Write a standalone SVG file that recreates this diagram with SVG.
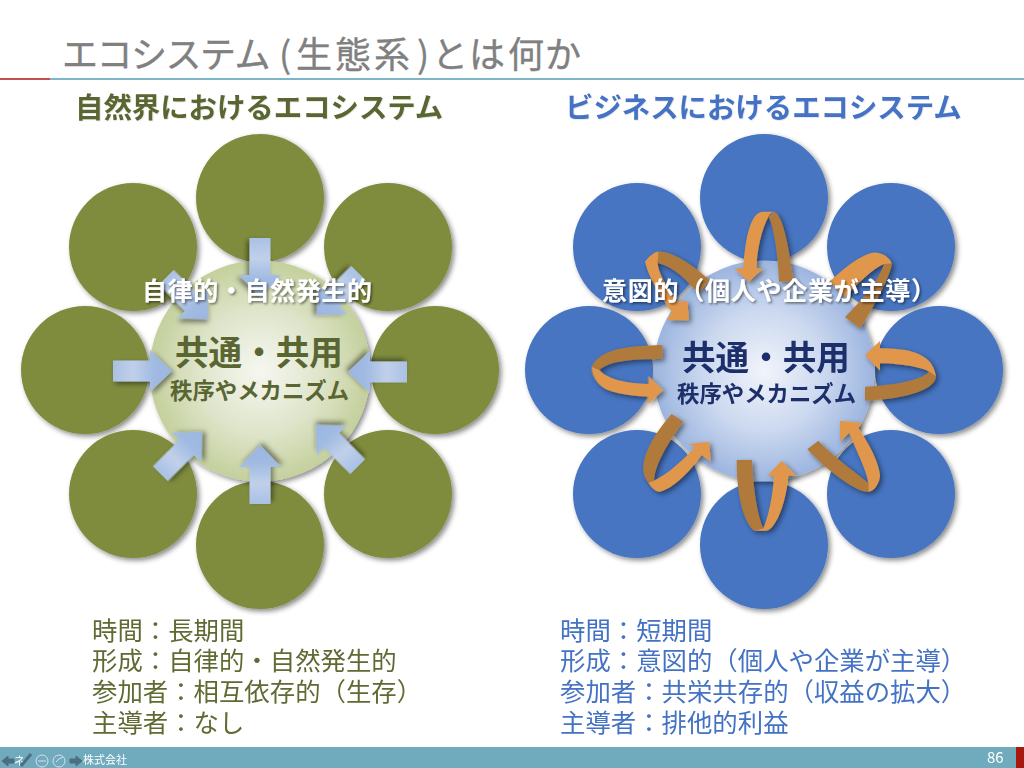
<svg xmlns="http://www.w3.org/2000/svg" width="1024" height="768" viewBox="0 0 1024 768">
<style>
text{font-family:"Noto Sans CJK JP","Noto Sans CJK SC",sans-serif}
.green{fill:#7f8c3c}.blue{fill:#4674c1}
.b{font-weight:700}
.gd{fill:#5a6632}.bd{fill:#1d2f6b}
.l1{fill:#5f6b33;font-size:25.4px}.l2{fill:#4472c4;font-size:25.4px}
.o{fill:#e0974b}.d{fill:#b07a3c}
.w{fill:#fff;font-weight:700;font-size:25px}
</style>
<defs>
<filter id="sh" x="-20%" y="-20%" width="140%" height="140%"><feDropShadow dx="2.5" dy="2.5" stdDeviation="2.5" flood-color="#000" flood-opacity=".45"/></filter>
<filter id="ts" x="-5%" y="-20%" width="110%" height="150%"><feDropShadow dx="1.5" dy="1.5" stdDeviation="1.2" flood-color="#000" flood-opacity=".5"/></filter>
<filter id="hs" x="-5%" y="-20%" width="110%" height="150%"><feDropShadow dx=".7" dy=".7" stdDeviation=".5" flood-color="#000" flood-opacity=".12"/></filter>
<radialGradient id="cg"><stop offset="0" stop-color="#f6f7f1"/><stop offset=".55" stop-color="#dfe5cb"/><stop offset="1" stop-color="#c4d09c"/></radialGradient>
<radialGradient id="cb"><stop offset="0" stop-color="#f1f4fb"/><stop offset=".55" stop-color="#cbd8ef"/><stop offset="1" stop-color="#9cb5df"/></radialGradient>
<linearGradient id="ag" gradientUnits="userSpaceOnUse" x1="-59" y1="0" x2="0" y2="0"><stop offset="0" stop-color="#aac1e5"/><stop offset=".35" stop-color="#c0d0ea"/><stop offset=".7" stop-color="#a0bae2"/><stop offset="1" stop-color="#9bb6e1"/></linearGradient>
<polygon id="ba" fill="url(#ag)" filter="url(#sh)" points="-59,-10.5 -22,-10.5 -22,-21 0,0 -22,21 -22,10.5 -59,10.5"/>
</defs>
<rect width="1024" height="768" fill="#fff"/>
<g id="title">
<text x="62 96.5 131 165.5 200 234.5 279 296 335 374 417 432 469 508 545" y="68" font-size="36" fill="#808080" stroke="#808080" stroke-width=".35">エコシステム(生態系)とは何か</text>
<rect x="50" y="78" width="974" height="2" fill="#7fb5c8"/><rect x="0" y="78" width="50" height="2" fill="#c0504d"/>
</g>
<text id="head-left" class="b" x="75" y="118" font-size="28.4" fill="#5a6632" filter="url(#hs)">自然界におけるエコシステム</text>
<text id="head-right" class="b" x="565" y="118" font-size="28.4" fill="#4472c4" filter="url(#hs)">ビジネスにおけるエコシステム</text>

<g id="nature-outer" class="green" filter="url(#sh)">
<circle id="n1" cx="260" cy="198" r="64"/><circle id="n2" cx="388" cy="247" r="64"/><circle id="n3" cx="435" cy="370" r="64"/><circle id="n4" cx="388" cy="494" r="64"/><circle id="n5" cx="260" cy="545" r="64"/><circle id="n6" cx="133" cy="494" r="64"/><circle id="n7" cx="85" cy="370" r="64"/><circle id="n8" cx="133" cy="247" r="64"/>
</g>
<g id="nature-center">
<circle cx="260" cy="371" r="110.5" fill="url(#cg)" filter="url(#sh)"/>
</g>
<g id="nature-connectors">
<use href="#ba" transform="translate(260,297) rotate(90)"/>
<use href="#ba" transform="translate(260,445) rotate(-90)"/>
<use href="#ba" transform="translate(172,371)"/>
<use href="#ba" transform="translate(348,372) rotate(180)"/>
<use href="#ba" transform="translate(202,432) rotate(-45)"/>
<use href="#ba" transform="translate(316,425) rotate(-135)"/>
<use href="#ba" transform="translate(208,319) rotate(45)"/>
<use href="#ba" transform="translate(317,315) rotate(135)"/>
</g>
<g id="nature-labels">
<text class="w" x="142" y="300" filter="url(#ts)" textLength="230">自律的・自然発生的</text>
<text class="b gd" x="175" y="365" font-size="33.6">共通・共用</text>
<text class="b gd" x="170" y="399" font-size="22.4">秩序やメカニズム</text>
</g>

<g id="biz-outer" class="blue" filter="url(#sh)">
<circle id="b1" cx="764" cy="198" r="64"/><circle id="b2" cx="891" cy="247" r="64"/><circle id="b3" cx="939" cy="370" r="64"/><circle id="b4" cx="891" cy="494" r="64"/><circle id="b5" cx="764" cy="545" r="64"/><circle id="b6" cx="637" cy="494" r="64"/><circle id="b7" cx="589" cy="370" r="64"/><circle id="b8" cx="637" cy="247" r="64"/>
</g>
<g id="biz-center">
<circle cx="764" cy="371" r="110.5" fill="url(#cb)" filter="url(#sh)"/>
</g>
<g id="biz-connectors" filter="url(#sh)">
<g transform="translate(580,200) scale(.33333)">
<path class="d" d="M582,35C610,40 630,160 640,245L597,245C595,170 580,70 565,50Z"/>
<path class="o" d="M490,205C495,120 510,35 550,35L582,35C570,38 565,50 565,50C545,90 530,150 530,205L550,205L507,245L463,205Z"/>
</g>
<g transform="translate(630,240) scale(.33333)">
<path class="d" d="M80,35C120,30 185,70 240,122L205,160C170,120 130,80 85,70Z"/>
<path class="o" d="M45,65C60,45 75,35 85,35L83,70C85,100 110,140 140,185L172,182L177,241L112,240L125,215C90,170 55,110 45,65Z"/>
</g>
<g transform="translate(810,240) scale(.33333)">
<path class="o" d="M60,125C110,75 170,35 200,38C225,40 245,60 245,72L222,72C190,85 150,125 105,170Z"/>
<path class="d" d="M222,72L245,70C250,85 200,190 150,265L105,232C150,185 205,125 222,72Z"/>
</g>
<g transform="translate(585,335) scale(.33333)">
<path class="d" d="M232,30L232,72C130,72 70,80 43,105L20,95C45,40 130,33 232,30Z"/>
<path class="o" d="M20,95C20,125 40,160 90,172C130,182 160,184 190,185L190,207L235,165L190,122L190,147C130,145 70,135 43,105Z"/>
</g>
<g transform="translate(855,335) scale(.33333)">
<path class="o" d="M30,60L75,18L75,40C150,40 235,50 243,125L222,110C200,95 120,85 75,85L75,107Z"/>
<path class="d" d="M243,125C240,160 170,190 30,197L30,155C120,150 200,135 222,110Z"/>
</g>
<g transform="translate(580,360) scale(.33333)">
<path class="d" d="M275,162L310,185C270,240 225,310 222,362L205,368C190,350 180,320 205,265C225,220 255,185 275,162Z"/>
<path class="o" d="M205,368L222,362C260,345 310,300 345,262L325,252L388,245L392,305L365,285C330,335 280,385 240,395C225,395 212,380 205,368Z"/>
<path class="d" d="M470,300L516,300C520,380 530,460 550,505L522,512C485,480 470,390 470,300Z"/>
<path class="o" d="M625,347C620,420 590,505 560,512L522,512L550,505C565,470 578,410 582,347L562,347L605,302L650,347Z"/>
<path class="d" d="M715,242C760,290 830,340 865,368L865,395C830,400 740,330 682,268Z"/>
<path class="o" d="M865,395C885,395 900,365 900,345C895,300 860,240 835,205L845,188L780,182L780,245L808,218C825,265 860,330 865,368Z"/>
</g>
</g>
<g id="biz-labels">
<text class="w" x="602" y="300" filter="url(#ts)" textLength="334">意図的&#xFF08;個人や企業が主導&#xFF09;</text>
<text class="b bd" x="682" y="370" font-size="33.6">共通・共用</text>
<text class="b bd" x="677" y="402" font-size="22.4">秩序やメカニズム</text>
</g>

<g id="notes-left" class="l1">
<text x="92" y="640">時間&#xFF1A;長期間</text>
<text x="92" y="670">形成&#xFF1A;自律的・自然発生的</text>
<text x="92" y="701">参加者&#xFF1A;相互依存的&#xFF08;生存&#xFF09;</text>
<text x="92" y="732">主導者&#xFF1A;なし</text>
</g>
<g id="notes-right" class="l2">
<text x="560" y="640">時間&#xFF1A;短期間</text>
<text x="560" y="670">形成&#xFF1A;意図的&#xFF08;個人や企業が主導&#xFF09;</text>
<text x="560" y="701">参加者&#xFF1A;共栄共存的&#xFF08;収益の拡大&#xFF09;</text>
<text x="560" y="732">主導者&#xFF1A;排他的利益</text>
</g>
<g id="footer">
<rect x="0" y="747" width="1016" height="21" fill="#6fabbd"/><rect x="1016" y="747" width="8" height="21" fill="#a9180f"/>
<text x="987" y="763" font-size="15" fill="#fff" font-family="Liberation Sans">86</text>
<text x="14" y="765" font-size="11" fill="#fff">ネ</text>
<text x="83" y="764" font-size="11" fill="#fff">株式会社</text>
<g fill="#4d6f80" stroke="#4d6f80">
<path d="M2,761L8,756V759H14V763H8V766Z"/><path d="M82,761L76,756V759H70V763H76V766Z"/>
<path d="M21,766L31,754" stroke-width="3"/>
</g>
<g fill="none" stroke="#dde" stroke-width="1">
<circle cx="42" cy="761" r="6"/><circle cx="59" cy="761" r="6"/><path d="M38,761H46M56,762L59,759L63,757"/>
</g>
</g>
</svg>
